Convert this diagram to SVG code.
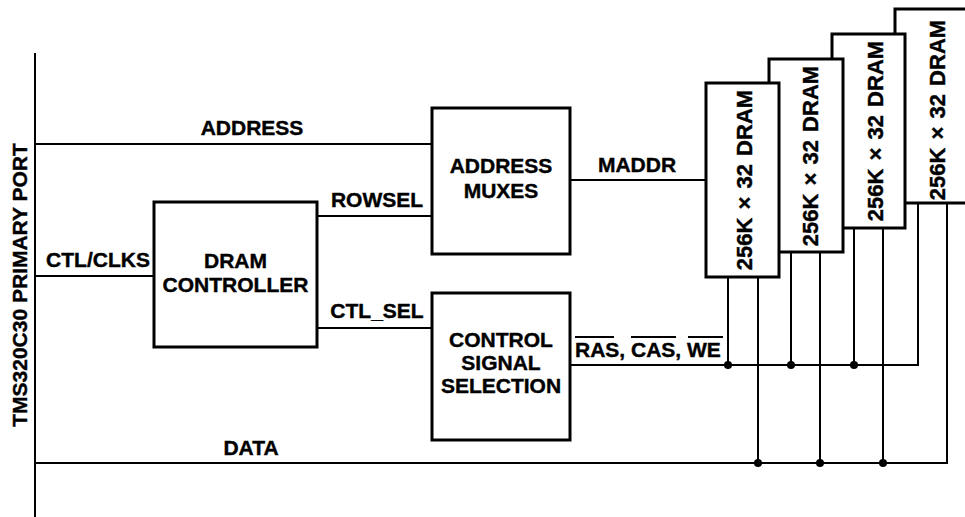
<svg xmlns="http://www.w3.org/2000/svg" width="965" height="517" viewBox="0 0 965 517">
<style>
text{font-family:"Liberation Sans",Arial,Helvetica,sans-serif;font-weight:bold;font-size:21px;fill:#000;stroke:#000;stroke-width:0.4}
.box{fill:#fff;stroke:#000;stroke-width:3}
.w{stroke:#000;stroke-width:2;fill:none}
.m{text-anchor:middle}
.dot{fill:#000}
.dr{font-size:22px}
</style>
<rect width="965" height="517" fill="#fff"/>
<g id="connectors">
<line class="w" x1="35" y1="53" x2="35" y2="517"/>
<line class="w" x1="35" y1="144" x2="432" y2="144"/>
<line class="w" x1="35" y1="276" x2="154" y2="276"/>
<line class="w" x1="317" y1="216" x2="432" y2="216"/>
<line class="w" x1="317" y1="328" x2="432" y2="328"/>
<line class="w" x1="570" y1="180" x2="706" y2="180"/>
<path class="w" d="M570 365 H918 V203"/>
<path class="w" d="M35 463 H947 V203"/>
<line class="w" x1="728" y1="277" x2="728" y2="365"/>
<line class="w" x1="758" y1="277" x2="758" y2="463"/>
<line class="w" x1="791" y1="252" x2="791" y2="365"/>
<line class="w" x1="820" y1="252" x2="820" y2="463"/>
<line class="w" x1="854" y1="228" x2="854" y2="365"/>
<line class="w" x1="883" y1="228" x2="883" y2="463"/>
<circle class="dot" cx="728" cy="365" r="4"/>
<circle class="dot" cx="791" cy="365" r="4"/>
<circle class="dot" cx="854" cy="365" r="4"/>
<circle class="dot" cx="758" cy="463" r="4"/>
<circle class="dot" cx="820" cy="463" r="4"/>
<circle class="dot" cx="883" cy="463" r="4"/>
<text x="252" y="135" class="m">ADDRESS</text>
<text x="98" y="267" class="m">CTL/CLKS</text>
<text x="377" y="207" class="m">ROWSEL</text>
<text x="377" y="318" class="m">CTL_SEL</text>
<text x="637" y="172" class="m">MADDR</text>
<text x="575" y="357">RAS, CAS, WE</text>
<line class="w" x1="575" y1="337" x2="614" y2="337"/>
<line class="w" x1="631" y1="337" x2="676" y2="337"/>
<line class="w" x1="688" y1="337" x2="723" y2="337"/>
<text x="251" y="455" class="m">DATA</text>
</g>
<g id="port">
<text class="m" transform="translate(27,285) rotate(-90)">TMS320C30 PRIMARY PORT</text>
</g>
<g id="dram-controller">
<rect class="box" x="154" y="202" width="163" height="145"/>
<text x="235.5" y="268" class="m">DRAM</text>
<text x="235.5" y="292" class="m">CONTROLLER</text>
</g>
<g id="address-muxes">
<rect class="box" x="432" y="108" width="138" height="146"/>
<text x="501" y="173" class="m">ADDRESS</text>
<text x="501" y="198" class="m">MUXES</text>
</g>
<g id="control-signal-selection">
<rect class="box" x="432" y="293" width="138" height="147"/>
<text x="501" y="347" class="m">CONTROL</text>
<text x="501" y="370" class="m">SIGNAL</text>
<text x="501" y="393" class="m">SELECTION</text>
</g>
<g id="dram4">
<rect class="box" x="895" y="9" width="80" height="194"/>
<text class="m dr" transform="translate(945,110) rotate(-90)" word-spacing="2">256K × 32 DRAM</text>
</g>
<g id="dram3">
<rect class="box" x="832" y="34" width="73" height="194"/>
<text class="m dr" transform="translate(883,131) rotate(-90)" word-spacing="2">256K × 32 DRAM</text>
</g>
<g id="dram2">
<rect class="box" x="769" y="59" width="74" height="193"/>
<text class="m dr" transform="translate(818,156) rotate(-90)" word-spacing="2">256K × 32 DRAM</text>
</g>
<g id="dram1">
<rect class="box" x="706" y="83" width="73" height="194"/>
<text class="m dr" transform="translate(752,180) rotate(-90)" word-spacing="2">256K × 32 DRAM</text>
</g>
</svg>
